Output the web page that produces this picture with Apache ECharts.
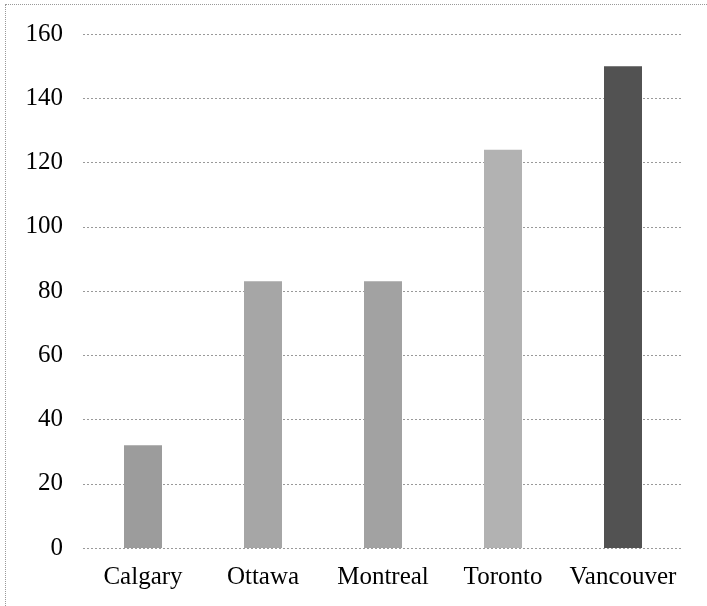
<!DOCTYPE html>
<html>
<head>
<meta charset="utf-8">
<script src="https://cdn.jsdelivr.net/npm/echarts@6/dist/echarts.min.js"></script>
<style>
html,body{margin:0;padding:0;background:#fff;}
#frame{position:absolute;left:5px;top:4px;width:702px;height:602px;border-top:1px dotted #999;border-left:1px dotted #999;box-sizing:border-box;}
#chart{position:absolute;left:0;top:0;width:707px;height:606px;}
</style>
</head>
<body>
<div id="frame"></div>
<div id="chart"></div>
<script>
const categories = ['Calgary', 'Ottawa', 'Montreal', 'Toronto', 'Vancouver'];
const values = [32, 83, 83, 124, 150];
const barColors = ['#9c9c9c', '#a6a6a6', '#a2a2a2', '#b2b2b2', '#525252'];
const yTicks = [0, 20, 40, 60, 80, 100, 120, 140, 160];

const labelStyle = {color: '#000', fontFamily: '"Liberation Serif", "Times New Roman", serif', fontSize: 25};

const chart = echarts.init(document.getElementById('chart'), null, {renderer: 'canvas'});
chart.setOption({
  animation: false,
  backgroundColor: 'transparent',
  grid: {left: 83, right: 24, top: 34, bottom: 58, containLabel: false},
  xAxis: {
    type: 'category',
    data: categories,
    axisLine: {show: false},
    axisTick: {show: false},
    axisLabel: Object.assign({margin: 17, interval: 0, hideOverlap: false}, labelStyle)
  },
  yAxis: {
    type: 'value',
    min: yTicks[0],
    max: yTicks[yTicks.length - 1],
    interval: 20,
    axisLine: {show: false},
    axisTick: {show: false},
    axisLabel: Object.assign({margin: 20}, labelStyle),
    splitLine: {show: true, lineStyle: {color: '#999', type: [2, 2], width: 1}}
  },
  series: [{
    type: 'bar',
    data: values.map((v, i) => ({value: v, itemStyle: {color: barColors[i]}})),
    barWidth: 38
  }]
});
</script>
</body>
</html>
